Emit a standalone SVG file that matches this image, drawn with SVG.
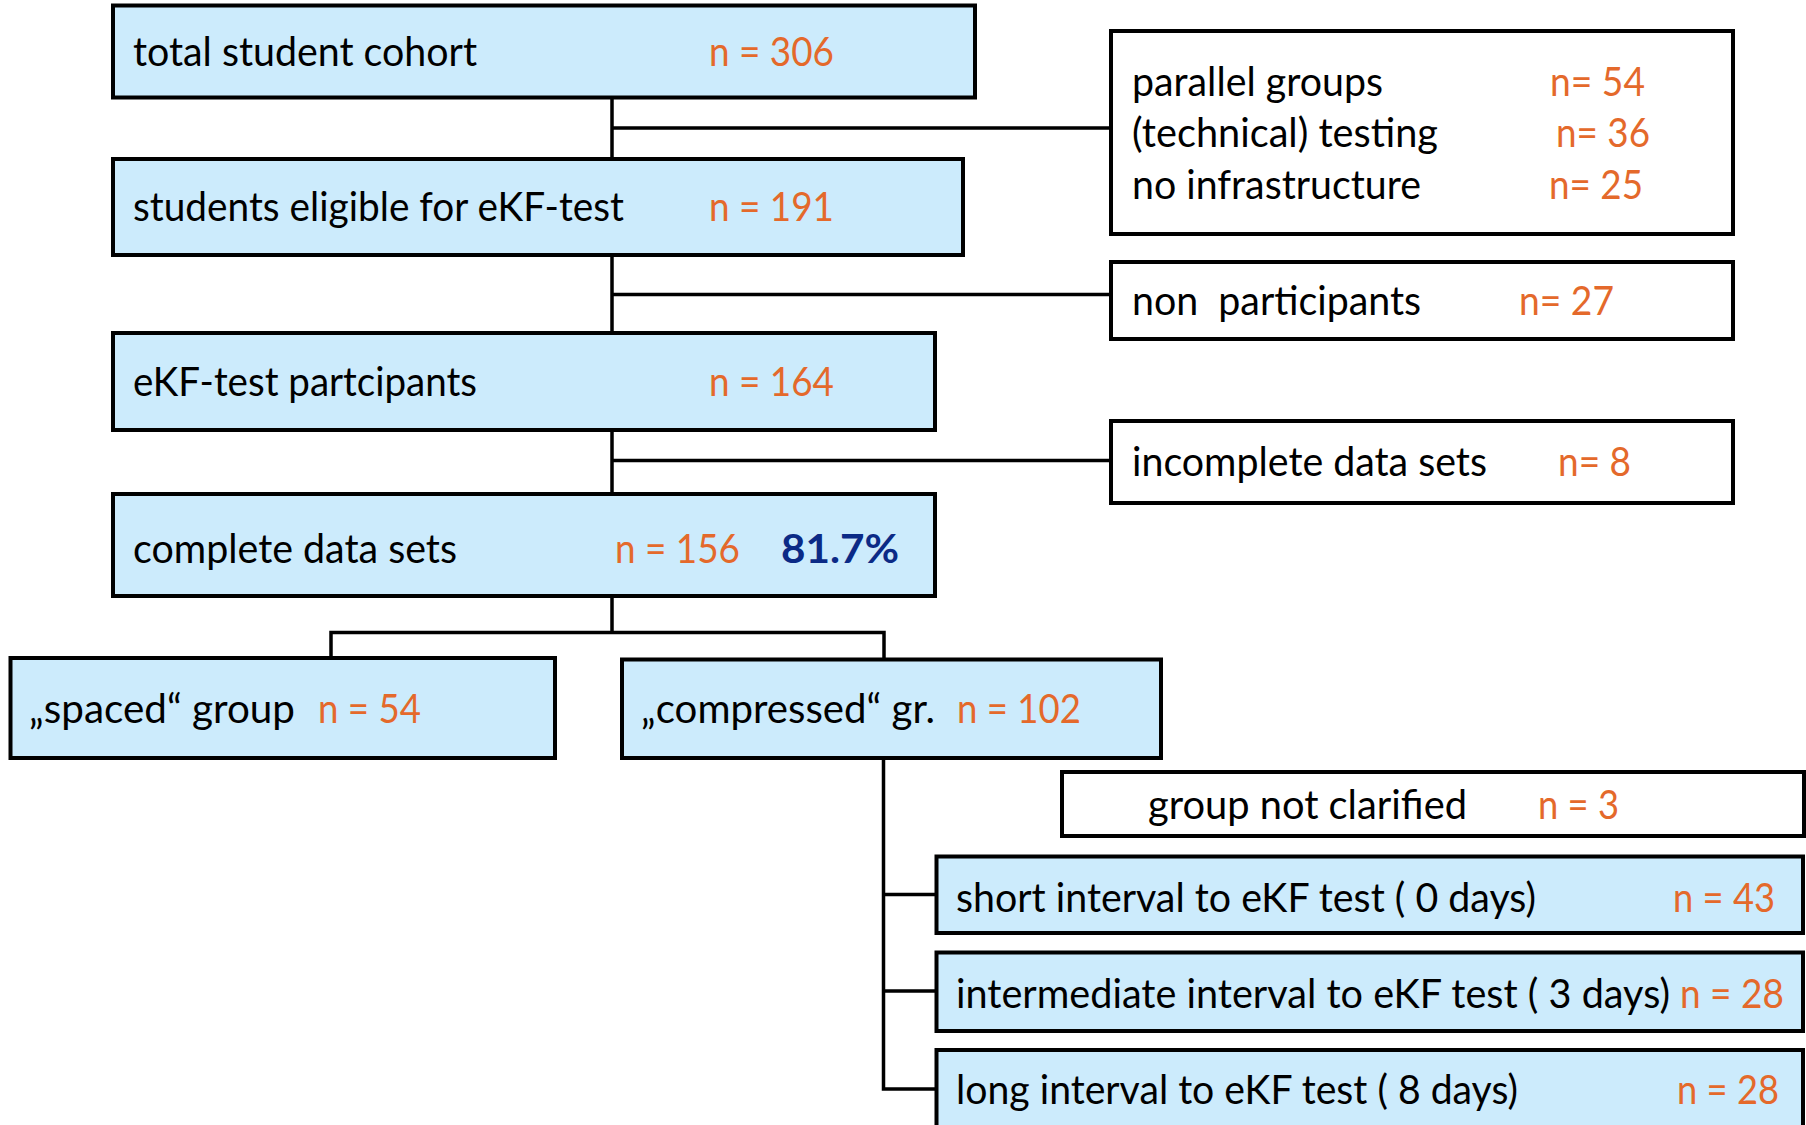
<svg xmlns="http://www.w3.org/2000/svg" width="1806" height="1125" viewBox="0 0 1806 1125">
<style>
.box{fill:#CCEBFC;stroke:#000;stroke-width:4}
.wbox{fill:#fff;stroke:#000;stroke-width:4}
.con{fill:none;stroke:#000;stroke-width:3.5}
text{font-family:"Lato","Open Sans",sans-serif;font-size:40px}
.t{fill:#000}
.n{fill:#E4692B}
.p{fill:#0B2A86;font-weight:bold}
</style>
<rect width="1806" height="1125" fill="#fff"/>
<g id="connectors">
<path class="con" d="M612 98V159M612 255V333M612 430V494M612 596V632.5"/>
<path class="con" d="M612 128H1111M612 294.5H1111M612 460.5H1111"/>
<path class="con" d="M331 658V632.5H884V659"/>
<path class="con" d="M883.5 758V1089H936M883.5 894.5H936M883.5 991H936"/>
</g>
<g id="n1">
<rect class="box" x="113" y="5.5" width="862" height="92"/>
<text class="t" x="133" y="66" textLength="344" lengthAdjust="spacingAndGlyphs">total student cohort</text>
<text class="n" x="709" y="66" textLength="125" lengthAdjust="spacingAndGlyphs">n = 306</text>
</g>
<g id="n2">
<rect class="box" x="113" y="159" width="850" height="96"/>
<text class="t" x="133" y="220.5" textLength="491" lengthAdjust="spacingAndGlyphs">students eligible for eKF-test</text>
<text class="n" x="709" y="220.5" textLength="125" lengthAdjust="spacingAndGlyphs">n = 191</text>
</g>
<g id="n3">
<rect class="box" x="113" y="333" width="822" height="97"/>
<text class="t" x="133" y="396" textLength="344" lengthAdjust="spacingAndGlyphs">eKF-test partcipants</text>
<text class="n" x="709" y="396" textLength="125" lengthAdjust="spacingAndGlyphs">n = 164</text>
</g>
<g id="n4">
<rect class="box" x="113" y="494" width="822" height="102"/>
<text class="t" x="133" y="562.5" textLength="324" lengthAdjust="spacingAndGlyphs">complete data sets</text>
<text class="n" x="615" y="562.5" textLength="125" lengthAdjust="spacingAndGlyphs">n = 156</text>
<text class="p" x="781" y="562.5" textLength="118" lengthAdjust="spacingAndGlyphs">81.7%</text>
</g>
<g id="exA">
<rect class="wbox" x="1111" y="31" width="622" height="203"/>
<text class="t" x="1132" y="96" textLength="251" lengthAdjust="spacingAndGlyphs">parallel groups</text>
<text class="n" x="1550" y="96" textLength="95" lengthAdjust="spacingAndGlyphs">n= 54</text>
<text class="t" x="1132" y="147" textLength="306" lengthAdjust="spacingAndGlyphs">(technical) testing</text>
<text class="n" x="1556" y="147" textLength="94" lengthAdjust="spacingAndGlyphs">n= 36</text>
<text class="t" x="1132" y="199" textLength="289" lengthAdjust="spacingAndGlyphs">no infrastructure</text>
<text class="n" x="1549" y="199" textLength="94" lengthAdjust="spacingAndGlyphs">n= 25</text>
</g>
<g id="exB">
<rect class="wbox" x="1111" y="262" width="622" height="77"/>
<text class="t" x="1132" y="315" textLength="289" lengthAdjust="spacingAndGlyphs" xml:space="preserve">non  participants</text>
<text class="n" x="1519" y="315" textLength="95" lengthAdjust="spacingAndGlyphs">n= 27</text>
</g>
<g id="exC">
<rect class="wbox" x="1111" y="421" width="622" height="82"/>
<text class="t" x="1132" y="475.5" textLength="355" lengthAdjust="spacingAndGlyphs">incomplete data sets</text>
<text class="n" x="1558" y="475.5" textLength="73" lengthAdjust="spacingAndGlyphs">n= 8</text>
</g>
<g id="spaced">
<rect class="box" x="10.5" y="658" width="544.5" height="100"/>
<text class="t" x="29" y="723" textLength="266" lengthAdjust="spacingAndGlyphs">„spaced“ group</text>
<text class="n" x="318" y="723" textLength="103" lengthAdjust="spacingAndGlyphs">n = 54</text>
</g>
<g id="compressed">
<rect class="box" x="622" y="659.5" width="539" height="98.5"/>
<text class="t" x="641" y="723" textLength="294" lengthAdjust="spacingAndGlyphs">„compressed“ gr.</text>
<text class="n" x="957" y="723" textLength="124" lengthAdjust="spacingAndGlyphs">n = 102</text>
</g>
<g id="unclear">
<rect class="wbox" x="1062" y="772" width="742" height="64"/>
<text class="t" x="1148" y="819" textLength="319" lengthAdjust="spacingAndGlyphs">group not clarified</text>
<text class="n" x="1538" y="819" textLength="81" lengthAdjust="spacingAndGlyphs">n = 3</text>
</g>
<g id="short">
<rect class="box" x="936.5" y="856.5" width="866.5" height="76.5"/>
<text class="t" x="956" y="911.5" textLength="580" lengthAdjust="spacingAndGlyphs">short interval to eKF test ( 0 days)</text>
<text class="n" x="1673" y="911.5" textLength="102" lengthAdjust="spacingAndGlyphs">n = 43</text>
</g>
<g id="intermediate">
<rect class="box" x="936.5" y="952.5" width="866.5" height="78.5"/>
<text class="t" x="956" y="1007.5" textLength="714" lengthAdjust="spacingAndGlyphs">intermediate interval to eKF test ( 3 days)</text>
<text class="n" x="1680" y="1007.5" textLength="104" lengthAdjust="spacingAndGlyphs">n = 28</text>
</g>
<g id="long">
<rect class="box" x="936.5" y="1050" width="866.5" height="90"/>
<text class="t" x="956" y="1103.5" textLength="562" lengthAdjust="spacingAndGlyphs">long interval to eKF test ( 8 days)</text>
<text class="n" x="1677" y="1103.5" textLength="102" lengthAdjust="spacingAndGlyphs">n = 28</text>
</g>
</svg>
